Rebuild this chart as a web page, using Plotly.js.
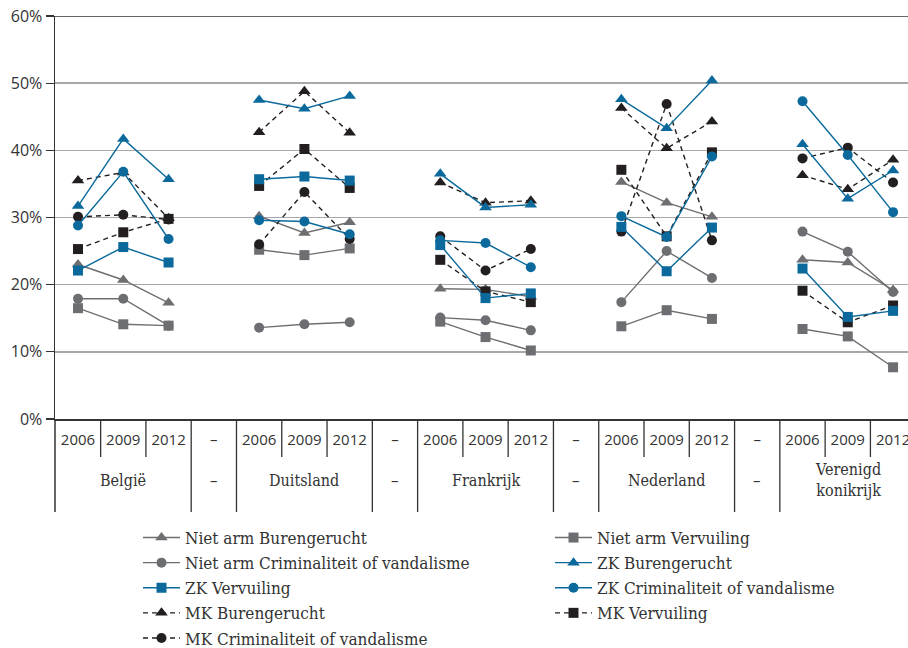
<!DOCTYPE html>
<html><head><meta charset="utf-8">
<script src="https://cdn.plot.ly/plotly-3.0.1.min.js"></script>
<style>html,body{margin:0;padding:0;background:#fff}#chart{width:908px;height:648px}</style>
</head><body><div id="chart"></div>
<script>
// ---- data ----
const countries = ["België", "Duitsland", "Frankrijk", "Nederland", "Verenigd konikrijk"];
const countryLabels = ["België", "Duitsland", "Frankrijk", "Nederland", "Verenigd<br>konikrijk"];
const years = ["2006", "2009", "2012"];
const gapLabel = "–";
const yTicks = [0, 10, 20, 30, 40, 50, 60];

// values per country: België, Duitsland, Frankrijk, Nederland, Verenigd konikrijk (2006, 2009, 2012)
const nietArmBuren   = [23.0, 20.7, 17.3,  30.2, 27.7, 29.3,  19.4, 19.3, 18.2,  35.3, 32.2, 30.1,  23.7, 23.3, 19.2];
const nietArmVerv    = [16.5, 14.1, 13.9,  25.2, 24.4, 25.4,  14.5, 12.2, 10.2,  13.8, 16.2, 14.9,  13.4, 12.3, 7.7];
const nietArmCrim    = [17.9, 17.9, 13.9,  13.6, 14.1, 14.4,  15.1, 14.7, 13.2,  17.4, 25.0, 21.0,  27.9, 24.9, 18.9];
const zkBuren        = [31.7, 41.7, 35.7,  47.5, 46.2, 48.1,  36.5, 31.5, 31.9,  47.6, 43.3, 50.4,  40.9, 32.8, 37.0];
const zkVerv         = [22.1, 25.6, 23.3,  35.7, 36.1, 35.5,  25.9, 18.0, 18.7,  28.6, 22.0, 28.5,  22.4, 15.2, 16.1];
const zkCrim         = [28.8, 36.8, 26.8,  29.6, 29.4, 27.5,  26.6, 26.2, 22.6,  30.2, 27.1, 39.1,  47.3, 39.3, 30.8];
const mkBuren        = [35.5, 36.7, 29.9,  42.7, 48.8, 42.6,  35.2, 32.2, 32.5,  46.3, 40.3, 44.3,  36.3, 34.2, 38.6];
const mkVerv         = [25.3, 27.8, 29.8,  34.7, 40.2, 34.4,  23.7, 19.0, 17.4,  37.1, 27.2, 39.7,  19.1, 14.4, 16.9];
const mkCrim         = [30.1, 30.4, 29.7,  26.0, 33.8, 26.8,  27.2, 22.1, 25.3,  27.9, 46.9, 26.6,  38.8, 40.4, 35.2];

// ---- build category axis ----
const cats = [], tickText = [], gapIdx = [], groupCenters = [];
countries.forEach((c, i) => {
  years.forEach(y => { cats.push(c + " " + y); tickText.push(y); });
  groupCenters.push(cats.length - 2);
  if (i < countries.length - 1) { gapIdx.push(cats.length); cats.push("gap" + i); tickText.push(gapLabel); }
});
function toY(vals) {
  const out = []; let k = 0;
  cats.forEach(c => { if (c.startsWith("gap")) out.push(null); else out.push(vals[k++]); });
  return out;
}

const BLUE = "#0b6a9b", GRAY = "#6d6e71", BLACK = "#231f20";
// drawing order: grey, MK, ZK (ZK on top); legend column + rank give the reference legend layout
const series = [
  {name: "Niet arm Burengerucht", v: nietArmBuren, color: GRAY, sym: "triangle-up", dash: "solid", leg: "legend", rank: 1},
  {name: "Niet arm Vervuiling", v: nietArmVerv, color: GRAY, sym: "square", dash: "solid", leg: "legend2", rank: 1},
  {name: "Niet arm Criminaliteit of vandalisme", v: nietArmCrim, color: GRAY, sym: "circle", dash: "solid", leg: "legend", rank: 2},
  {name: "MK Burengerucht", v: mkBuren, color: BLACK, sym: "triangle-up", dash: "5px,4px", leg: "legend", rank: 4},
  {name: "MK Vervuiling", v: mkVerv, color: BLACK, sym: "square", dash: "5px,4px", leg: "legend2", rank: 4},
  {name: "MK Criminaliteit of vandalisme", v: mkCrim, color: BLACK, sym: "circle", dash: "5px,4px", leg: "legend", rank: 5},
  {name: "ZK Burengerucht", v: zkBuren, color: BLUE, sym: "triangle-up", dash: "solid", leg: "legend2", rank: 2},
  {name: "ZK Vervuiling", v: zkVerv, color: BLUE, sym: "square", dash: "solid", leg: "legend", rank: 3},
  {name: "ZK Criminaliteit of vandalisme", v: zkCrim, color: BLUE, sym: "circle", dash: "solid", leg: "legend2", rank: 3}
];
const traces = series.map(s => ({
  type: "scatter", mode: "lines+markers", name: s.name, x: cats, y: toY(s.v),
  connectgaps: false, legend: s.leg, legendrank: s.rank,
  line: {color: s.color, width: 1.4, dash: s.dash},
  marker: {color: s.color, symbol: s.sym, size: s.sym === "triangle-up" ? 11 : 10}
}));

// ---- layout geometry ----
const W = 908, H = 648, L = 55, T = 16, B = 229;
const plotH = H - T - B, plotW = W - L;
const px2paper = p => -(p) / plotH;  // p pixels below the x axis
const xpx = p => (p - L) / plotW;
const LINE = "#333333";
const shapes = [];
shapes.push({type: "line", xref: "paper", yref: "y", x0: 0, x1: 1, y0: 60, y1: 60, line: {color: LINE, width: 1.5}});
shapes.push({type: "line", xref: "paper", yref: "paper", x0: 0, x1: 0, y0: 0, y1: px2paper(93), line: {color: LINE, width: 1.5}});
for (let i = 0; i < cats.length; i++) {
  const xb = i + 0.5;
  const isGroupEdge = gapIdx.includes(i) || gapIdx.includes(i + 1) || i === cats.length - 1;
  shapes.push({type: "line", xref: "x", yref: "paper", x0: xb, x1: xb, y0: 0,
    y1: isGroupEdge ? px2paper(93) : px2paper(38), line: {color: LINE, width: 1.3}});
}
const SERIF = "DejaVu Serif Condensed, Liberation Serif, serif";
const annotations = [];
groupCenters.forEach((gc, i) => annotations.push({xref: "x", yref: "paper", x: gc, y: px2paper(61),
  text: countryLabels[i], showarrow: false, yanchor: "middle",
  font: {family: SERIF, size: 16, color: "#333"}}));
gapIdx.forEach(gi => annotations.push({xref: "x", yref: "paper", x: gi, y: px2paper(61),
  text: gapLabel, showarrow: false, yanchor: "middle",
  font: {family: "Open Sans, sans-serif", size: 15, color: "#333"}}));

const legendBase = {orientation: "v", xanchor: "left", y: px2paper(101), yanchor: "top",
  itemwidth: 37, tracegroupgap: 0, bgcolor: "rgba(0,0,0,0)",
  font: {family: SERIF, size: 17, color: "#333"}};

const layout = {
  width: W, height: H,
  margin: {l: L, r: 0, t: T, b: B, autoexpand: false},
  paper_bgcolor: "#fff", plot_bgcolor: "#fff",
  showlegend: true,
  legend: Object.assign({}, legendBase, {x: xpx(138)}),
  legend2: Object.assign({}, legendBase, {x: xpx(550)}),
  xaxis: {type: "category", categoryorder: "array", categoryarray: cats,
    range: [-0.508, 18.33], tickvals: cats, ticktext: tickText, ticks: "", showgrid: false,
    zeroline: false, showline: true, linecolor: LINE, linewidth: 1.5, ticklabelstandoff: 6,
    tickfont: {family: "Open Sans, sans-serif", size: 15, color: "#333"}, fixedrange: true},
  yaxis: {range: [0, 60], tickvals: yTicks, ticktext: yTicks.map(t => t + "%"),
    ticks: "outside", ticklen: 8, tickcolor: LINE, tickwidth: 1.3,
    showgrid: true, gridcolor: "#a8a8a8", gridwidth: 1.5, zeroline: false,
    showline: true, linecolor: LINE, linewidth: 1.5,
    tickfont: {family: "Open Sans, sans-serif", size: 16, color: "#333"}, fixedrange: true},
  shapes: shapes, annotations: annotations
};
Plotly.newPlot("chart", traces, layout, {displayModeBar: false, staticPlot: true});
</script>
</body></html>
